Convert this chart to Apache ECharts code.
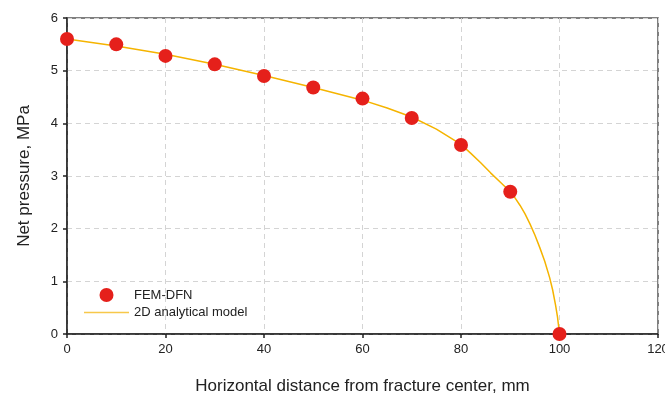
<!DOCTYPE html>
<html>
<head>
<meta charset="utf-8">
<script src="https://cdn.jsdelivr.net/npm/echarts@6/dist/echarts.min.js"></script>
<style>html,body{margin:0;padding:0;background:#fff;}#c{width:665px;height:397px;}</style>
</head>
<body>
<div id="c"></div>
<script>
var femX = [0, 10, 20, 30, 40, 50, 60, 70, 80, 90, 100];
var femY = [5.60, 5.50, 5.28, 5.12, 4.90, 4.68, 4.47, 4.10, 3.59, 2.70, 0];
var modelX = [0, 10, 20, 30, 40, 50, 60, 65, 70, 75, 80, 82, 84, 86, 88, 90, 91, 92, 93, 94, 95, 96, 97, 98, 98.6, 99.2, 99.6, 100];
var modelY = [5.60, 5.47, 5.31, 5.12, 4.91, 4.68, 4.44, 4.29, 4.12, 3.89, 3.60, 3.43, 3.25, 3.06, 2.88, 2.70, 2.58, 2.44, 2.28, 2.09, 1.88, 1.64, 1.38, 1.07, 0.84, 0.55, 0.32, 0];
var xTitle = 'Horizontal distance from fracture center, mm';
var yTitle = 'Net pressure, MPa';

function pairs(xs, ys){ return xs.map(function(x,i){ return [x, ys[i]]; }); }

var chart = echarts.init(document.getElementById('c'));
var font = 'Liberation Sans, Arial, sans-serif';
chart.setOption({
  animation: false,
  textStyle: {fontFamily: font},
  grid: {left: 67, right: 7, top: 18, bottom: 63, show: true, borderColor: '#555', borderWidth: 1.5,
         containLabel: false, outerBoundsMode: 'none'},
  legend: {
    orient: 'vertical', left: 84, top: 288, padding: 0, itemWidth: 45, itemHeight: 14, itemGap: 4,
    textStyle: {fontFamily: font, fontSize: 13, color: '#222'},
    data: [
      {name: 'FEM-DFN', icon: 'circle'},
      {name: '2D analytical model', icon: 'path://M0,0 L44,0 L44,1.6 L0,1.6 Z', itemStyle: {color: '#f7c84a'}}
    ]
  },
  xAxis: {
    type: 'value', min: 0, max: 120, interval: 20,
    name: xTitle, nameLocation: 'middle', nameGap: 44,
    nameTextStyle: {fontFamily: font, fontSize: 17, color: '#222'},
    axisLine: {lineStyle: {color: '#222', width: 1.5}},
    axisTick: {show: true, inside: false, length: 4, lineStyle: {color: '#222', width: 1.5}},
    axisLabel: {fontFamily: font, fontSize: 13, color: '#222', margin: 9},
    splitLine: {show: true, lineStyle: {color: '#d4d4d4', type: [5, 4], width: 1}}
  },
  yAxis: {
    type: 'value', min: 0, max: 6, interval: 1,
    name: yTitle, nameLocation: 'middle', nameGap: 34, nameRotate: 90,
    nameTextStyle: {fontFamily: font, fontSize: 17, color: '#222'},
    axisLine: {show: true, lineStyle: {color: '#222', width: 1.5}},
    axisTick: {show: true, inside: false, length: 4, lineStyle: {color: '#222', width: 1.5}},
    axisLabel: {fontFamily: font, fontSize: 13, color: '#222', margin: 9},
    splitLine: {show: true, lineStyle: {color: '#d4d4d4', type: [5, 4], width: 1}}
  },
  series: [
    {
      name: '2D analytical model', type: 'line', data: pairs(modelX, modelY),
      smooth: false, symbol: 'none', z: 2,
      lineStyle: {color: '#f5b400', width: 1.5}, itemStyle: {color: '#f5b400'}
    },
    {
      name: 'FEM-DFN', type: 'scatter', data: pairs(femX, femY),
      symbol: 'circle', symbolSize: 14, z: 3,
      itemStyle: {color: '#e5201b', opacity: 1}
    }
  ]
});
</script>
</body>
</html>
